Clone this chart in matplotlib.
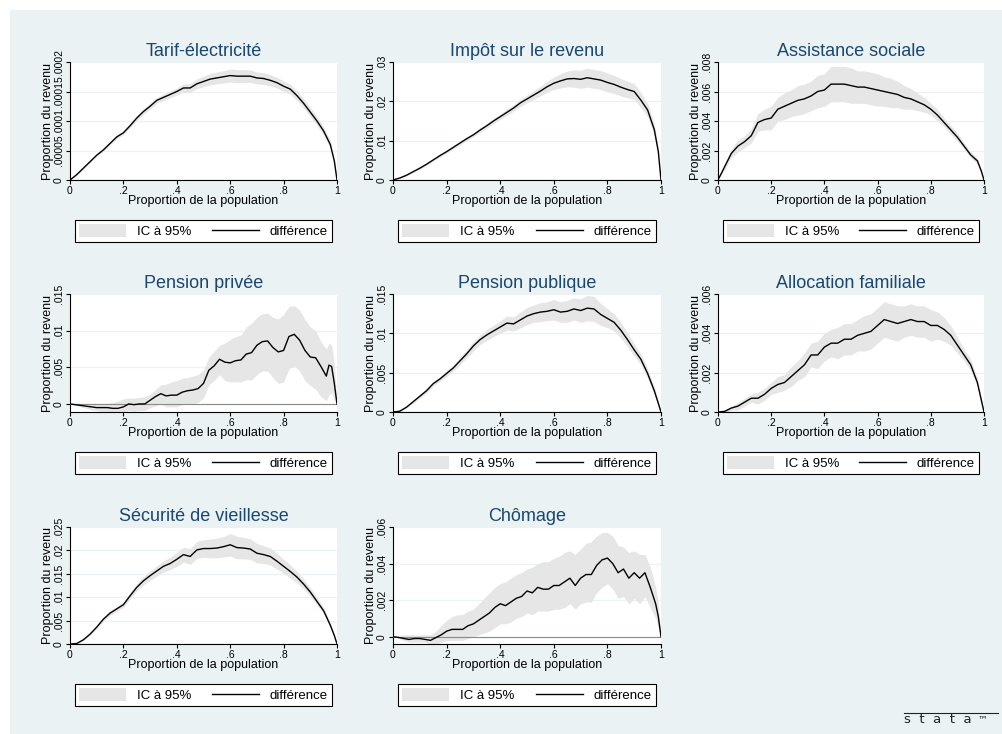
import numpy as np
import matplotlib.pyplot as plt
from matplotlib.patches import Rectangle
from matplotlib.lines import Line2D

plt.rcParams['font.family'] = ['Liberation Sans', 'DejaVu Sans']

# x grid used by the smooth curves
x_smooth = [0, .025, .05, .075, .1, .125, .15, .175, .2, .225, .25, .275, .3, .325,
            .35, .375, .4, .425, .45, .475, .5, .525, .55, .575, .6, .625, .65, .675,
            .7, .725, .75, .775, .8, .825, .85, .875, .9, .925, .95, .975, .99, 1]

# Tarif-electricite (values in 1e-5)
tarif = np.array([0, 0.9, 2.0, 3.1, 4.2, 5.1, 6.2, 7.3, 8.0, 9.2, 10.5, 11.6, 12.5, 13.5,
                  14.0, 14.5, 15.0, 15.6, 15.6, 16.3, 16.7, 17.1, 17.3, 17.5, 17.7, 17.6,
                  17.6, 17.6, 17.3, 17.2, 16.9, 16.5, 15.9, 15.4, 14.3, 13.0, 11.5, 10.0,
                  8.3, 6.0, 3.2, 0]) * 1e-5
tarif_ci = np.array([0, .1, .15, .2, .2, .25, .25, .3, .3, .35, .4, .45, .5, .5, .55, .6,
                     .6, .7, .75, .8, .9, .95, 1.0, 1.05, 1.1, 1.1, 1.1, 1.05, 1.0, 1.0,
                     .95, .9, .9, .85, .85, .8, .8, .75, .7, .6, .4, 0]) * 1e-5

impot = np.array([0, .0005, .0012, .0021, .0030, .0040, .0051, .0062, .0072, .0083, .0094,
                  .0105, .0115, .0127, .0138, .0150, .0161, .0172, .0183, .0196, .0206,
                  .0216, .0226, .0237, .0246, .0252, .0257, .0258, .0256, .0260, .0257,
                  .0254, .0248, .0243, .0236, .0230, .0225, .0203, .0178, .0128, .0072, 0])
impot_ci = np.array([0, .0001, .0002, .0002, .0003, .0003, .0003, .0004, .0004, .0004,
                     .0005, .0005, .0005, .0006, .0006, .0007, .0007, .0008, .0008, .0009,
                     .0010, .0011, .0012, .0014, .0016, .0018, .0020, .0022, .0023, .0024,
                     .0024, .0024, .0024, .0023, .0022, .0021, .0020, .0019, .0017, .0014,
                     .0010, 0])

assist = np.array([0, .0009, .0018, .0023, .0026, .0030, .0039, .0041, .0042, .0048, .0050,
                   .0052, .0054, .0055, .0057, .0060, .0061, .0065, .0065, .0065, .0064,
                   .0063, .0063, .0062, .0061, .0060, .0059, .0058, .0056, .0055, .0053,
                   .0051, .0048, .0044, .0039, .0034, .0029, .0023, .0017, .0013, .0006, 0])
assist_ci = np.array([0, .0002, .0003, .0004, .0004, .0005, .0006, .0007, .0008, .0008,
                      .0009, .0009, .0010, .0010, .0010, .0011, .0011, .0012, .0012, .0012,
                      .0012, .0011, .0011, .0011, .0011, .0010, .0010, .0009, .0008, .0007,
                      .0006, .0005, .0004, .0004, .0003, .0003, .0003, .0002, .0002, .0002,
                      .0001, 0])

publique = np.array([0, .0001, .0006, .0013, .0020, .0027, .0036, .0042, .0049, .0056, .0065,
                     .0074, .0084, .0092, .0098, .0103, .0108, .0113, .0112, .0117, .0122,
                     .0125, .0127, .0128, .0130, .0127, .0128, .0131, .0129, .0132, .0131,
                     .0124, .0119, .0114, .0104, .0092, .0079, .0067, .0049, .0027, .0011, 0])
publique_ci = np.array([0, .0001, .0001, .0002, .0002, .0003, .0003, .0003, .0004, .0004,
                        .0005, .0005, .0006, .0006, .0007, .0007, .0008, .0009, .0009, .0010,
                        .0011, .0011, .0012, .0012, .0013, .0013, .0014, .0014, .0015, .0016,
                        .0016, .0014, .0012, .0011, .0010, .0009, .0008, .0007, .0006, .0005,
                        .0003, 0])

famil = np.array([0, .00003, .0002, .0003, .0005, .0007, .0007, .0009, .0012, .0014, .0015,
                  .0018, .0021, .0024, .0029, .0029, .0033, .0035, .0035, .0037, .0037,
                  .0039, .0040, .0041, .0044, .0047, .0046, .0045, .0046, .0047, .0046,
                  .0046, .0044, .0044, .0042, .0039, .0034, .0029, .0024, .0015, .0006, 0])
famil_ci = np.array([0, .0001, .0001, .0002, .0002, .0002, .0003, .0003, .0003, .0004,
                     .0004, .0005, .0005, .0006, .0006, .0007, .0007, .0007, .0008, .0008,
                     .0008, .0008, .0009, .0009, .0009, .0009, .0009, .0009, .0008, .0008,
                     .0008, .0008, .0008, .0007, .0006, .0005, .0004, .0003, .0003, .0002,
                     .0001, 0])

secu = np.array([0, .0001, .0009, .0021, .0036, .0053, .0066, .0075, .0084, .0103, .0121,
                 .0135, .0146, .0156, .0166, .0172, .0181, .0191, .0187, .0201, .0204,
                 .0204, .0205, .0208, .0212, .0206, .0205, .0203, .0194, .0191, .0187,
                 .0177, .0166, .0155, .0143, .0128, .0111, .0091, .0071, .0040, .0018, 0])
secu_ci = np.array([0, .0001, .0002, .0003, .0003, .0004, .0005, .0005, .0006, .0007,
                    .0008, .0009, .0010, .0011, .0012, .0013, .0015, .0016, .0017, .0018,
                    .0019, .0020, .0021, .0022, .0024, .0024, .0023, .0022, .0021, .0019,
                    .0018, .0017, .0015, .0014, .0012, .0011, .0009, .0008, .0007, .0005,
                    .0003, 0])

# Pension privee: noisy, asymmetric band
x_prive = [0, .02, .04, .06, .08, .10, .12, .14, .16, .18, .20, .22, .24, .26, .28, .30,
           .32, .34, .36, .38, .40, .42, .44, .46, .48, .50, .52, .54, .56, .58, .60, .62,
           .64, .66, .68, .70, .72, .74, .76, .78, .80, .82, .84, .86, .88, .90, .92, .94,
           .96, .97, .98, .99, 1]
prive = [0, -.0001, -.0002, -.0003, -.0004, -.0005, -.0005, -.0005, -.0006, -.0006, -.0004,
         .0000, -.0001, .0000, .0000, .0005, .0010, .0014, .0011, .0012, .0012, .0016, .0018,
         .0019, .0021, .0028, .0046, .0052, .0061, .0057, .0056, .0059, .0060, .0068, .0070,
         .0080, .0085, .0086, .0077, .0071, .0073, .0092, .0095, .0087, .0073, .0064, .0063,
         .0051, .0038, .0053, .0051, .0028, 0]
prive_hi = [0, .0001, .0001, .0001, .0001, .0001, .0001, .0001, .0002, .0004, .0007, .0008,
            .0008, .0009, .0010, .0013, .0020, .0026, .0027, .0030, .0032, .0035, .0036, .0038,
            .0040, .0046, .0064, .0072, .0080, .0083, .0088, .0092, .0094, .0105, .0110, .0118,
            .0123, .0124, .0118, .0116, .0122, .0133, .0134, .0128, .0115, .0105, .0100, .0085,
            .0075, .0083, .0080, .0055, 0]
prive_lo = [0, -.0002, -.0004, -.0006, -.0008, -.0009, -.0010, -.0010, -.0011, -.0011, -.0011,
            -.0009, -.0010, -.0009, -.0009, -.0005, -.0003, .0000, -.0004, -.0004, -.0004,
            -.0001, .0000, .0000, .0002, .0008, .0026, .0032, .0040, .0032, .0030, .0030, .0030,
            .0033, .0033, .0040, .0045, .0045, .0036, .0028, .0030, .0048, .0052, .0045, .0032,
            .0025, .0020, .0010, .0004, .0012, .0015, .0005, 0]

# Chomage: noisy, asymmetric band
x_chom = [0, .02, .04, .06, .08, .10, .12, .14, .16, .18, .20, .22, .24, .26, .28, .30,
          .32, .34, .36, .38, .40, .42, .44, .46, .48, .50, .52, .54, .56, .58, .60, .62,
          .64, .66, .68, .70, .72, .74, .76, .78, .80, .82, .84, .86, .88, .90, .92, .94,
          .96, .98, .99, 1]
chom = [0, -.00004, -.0001, -.00015, -.0001, -.0001, -.00015, -.0002, -.00005, .0001, .0003,
        .0004, .0004, .0004, .0006, .0007, .0009, .0011, .0013, .0016, .0018, .0017, .0019,
        .0021, .0022, .0025, .0024, .0027, .0026, .0026, .0028, .0028, .0030, .0032, .0028,
        .0032, .0034, .0034, .0039, .0042, .0043, .0040, .0035, .0037, .0032, .0035, .0032,
        .0035, .0027, .0018, .0011, 0]
chom_hi = [0, .00005, .0001, .0001, .0001, .0001, .0001, .0001, .0003, .0006, .0009, .0011,
           .0012, .0012, .0014, .0015, .0018, .0021, .0024, .0027, .0029, .0030, .0032, .0034,
           .0035, .0037, .0038, .0040, .0041, .0041, .0043, .0044, .0046, .0047, .0045, .0048,
           .0051, .0052, .0055, .0057, .0057, .0055, .0050, .0049, .0046, .0047, .0045, .0045,
           .0038, .0027, .0018, 0]
chom_lo = [0, -.0001, -.0002, -.0003, -.0003, -.0003, -.0003, -.0004, -.0004, -.0003, -.0002,
           -.0002, -.0002, -.0002, -.0001, .0000, .0001, .0002, .0003, .0005, .0007, .0007,
           .0008, .0010, .0011, .0013, .0012, .0014, .0014, .0014, .0015, .0015, .0016, .0018,
           .0015, .0018, .0019, .0019, .0024, .0027, .0029, .0026, .0021, .0022, .0018, .0021,
           .0018, .0022, .0016, .0010, .0005, 0]

titles = ['Tarif-électricité', 'Impôt sur le revenu', 'Assistance sociale',
          'Pension privée', 'Pension publique', 'Allocation familiale',
          'Sécurité de vieillesse', 'Chômage']

series = [
    (x_smooth, tarif, tarif - tarif_ci, tarif + tarif_ci),
    (x_smooth, impot, impot - impot_ci, impot + impot_ci),
    (x_smooth, assist, assist - assist_ci, assist + assist_ci),
    (x_prive, prive, prive_lo, prive_hi),
    (x_smooth, publique, publique - publique_ci, publique + publique_ci),
    (x_smooth, famil, famil - famil_ci, famil + famil_ci),
    (x_smooth, secu, secu - secu_ci, secu + secu_ci),
    (x_chom, chom, chom_lo, chom_hi),
]

ylims = [(0, .0002), (0, .03), (0, .008), (-.0011, .015),
         (0, .015), (0, .006), (0, .025), (-.0004, .006)]
yticks = [[0, .00005, .0001, .00015, .0002], [0, .01, .02, .03], [0, .002, .004, .006, .008],
          [0, .005, .01, .015], [0, .005, .01, .015], [0, .002, .004, .006],
          [0, .005, .01, .015, .02, .025], [0, .002, .004, .006]]
ytick_labels = [['0', '.00005', '.0001', '.00015', '.0002'], ['0', '.01', '.02', '.03'],
                ['0', '.002', '.004', '.006', '.008'], ['0', '.005', '.01', '.015'],
                ['0', '.005', '.01', '.015'], ['0', '.002', '.004', '.006'],
                ['0', '.005', '.01', '.015', '.02', '.025'], ['0', '.002', '.004', '.006']]
xticks = [0, .2, .4, .6, .8, 1]
xtick_labels = ['0', '.2', '.4', '.6', '.8', '1']

BG = '#EAF2F3'
BAND = '#E6E6E6'
NAVY = '#1A476F'

W, H = 1003, 734
fig = plt.figure(figsize=(W / 100, H / 100), dpi=100)
fig.patches.append(Rectangle((10 / W, 0), 1, 1 - 10 / H, transform=fig.transFigure,
                             facecolor=BG, edgecolor='none', zorder=-10))

cols = [(70, 337), (393, 661), (718, 984)]
rows = [(62, 180), (294, 412), (527, 644)]

for i, title in enumerate(titles):
    c0, c1 = cols[i % 3]
    r0, r1 = rows[i // 3]
    ax = fig.add_axes([c0 / W, 1 - r1 / H, (c1 - c0) / W, (r1 - r0) / H])
    ax.set_facecolor('white')
    x, d, lo, hi = series[i]

    band = ax.fill_between(x, lo, hi, color=BAND, lw=0, zorder=2)
    ax.axhline(0, color='#8a8a8a', lw=0.8, zorder=3)
    line, = ax.plot(x, d, color='black', lw=1.0, zorder=4)

    ax.set_xlim(0, 1)
    ax.set_ylim(*ylims[i])
    ax.set_xticks(xticks)
    ax.set_xticklabels(xtick_labels)
    ax.set_yticks(yticks[i])
    ax.set_yticklabels(ytick_labels[i], rotation=90, va='center')
    ax.yaxis.grid(True, color=BG, lw=0.9, zorder=0)
    ax.set_axisbelow(True)

    for s in ['top', 'right']:
        ax.spines[s].set_visible(False)
    for s in ['left', 'bottom']:
        ax.spines[s].set_color('black')
        ax.spines[s].set_linewidth(0.8)
    ax.tick_params(direction='out', length=3, width=0.8, labelsize=7.5, pad=1.5)

    ax.set_title(title, color=NAVY, fontsize=13, pad=4)
    ax.set_xlabel('Proportion de la population', fontsize=9, labelpad=-1)
    ax.set_ylabel('Proportion du revenu', fontsize=9, labelpad=0)

    ph = r1 - r0
    pw = c1 - c0
    leg = ax.legend([band, line], ['IC à 95%', 'différence'], ncol=2, mode='expand',
                    loc='lower left', bbox_to_anchor=(5 / pw, -62 / ph, (pw - 10) / pw, 24 / ph),
                    borderaxespad=0, fontsize=9.5, handlelength=3.6, handleheight=1.1,
                    handletextpad=0.8, borderpad=0.3, fancybox=False, framealpha=1,
                    edgecolor='black')
    leg.get_frame().set_linewidth(0.8)

# stata logo, bottom right
fig.text(904 / W, 1 - 723 / H, 's  t  a  t  a', fontsize=9.5, family='DejaVu Sans',
         color='#222222', ha='left', va='baseline')
fig.text(978 / W, 1 - 722 / H, '™', fontsize=7, family='DejaVu Sans', color='#222222',
         ha='left', va='baseline')
fig.add_artist(Line2D([904 / W, 998 / W], [1 - 713 / H, 1 - 713 / H], color='#222222',
                      lw=0.8, transform=fig.transFigure))

fig.savefig('out.png', dpi=100)
